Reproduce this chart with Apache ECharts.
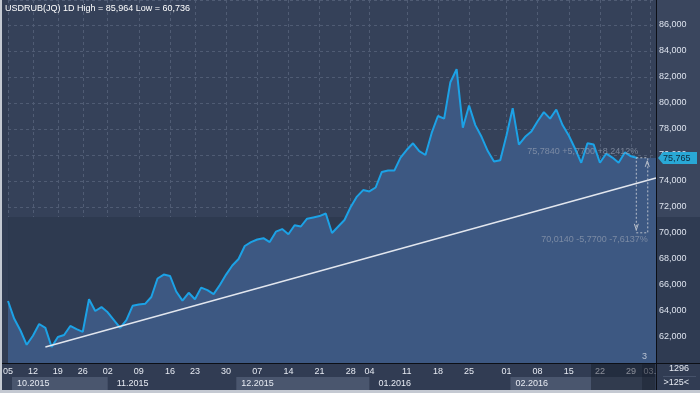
<!DOCTYPE html>
<html><head><meta charset="utf-8">
<script src="https://cdn.jsdelivr.net/npm/echarts@6/dist/echarts.min.js"></script>
<style>html,body{margin:0;padding:0;background:#c4c9d2;overflow:hidden}#c{width:700px;height:393px}</style>
</head><body><div id="c"></div>
<script>
// ---- data ----
const titleText = 'USDRUB(JQ) 1D High = 85,964 Low = 60,736';
const categories = [
 '10-05','10-06','10-07','10-08','10-12','10-13','10-14','10-15','10-19','10-20','10-21','10-22','10-26','10-27','10-28','10-29',
 '11-02','11-03','11-04','11-05','11-06','11-09','11-10','11-11','11-12','11-13','11-16','11-17','11-18','11-19',
 '11-23','11-24','11-25','11-26','11-27','11-30','12-01','12-02','12-03','12-04','12-07','12-08','12-09','12-10','12-11',
 '12-14','12-15','12-16','12-17','12-18','12-21','12-22','12-23','12-24','12-25','12-28','12-29','12-30',
 '01-04','01-05','01-06','01-07','01-08','01-09','01-11','01-12','01-13','01-14','01-15','01-18','01-19','01-20','01-21','01-22',
 '01-25','01-26','01-27','01-28','01-29','01-30','02-01','02-02','02-03','02-04','02-05','02-08','02-09','02-10','02-11','02-12',
 '02-15','02-16','02-17','02-18','02-19','02-22','02-24','02-25','02-26','02-27','02-29','03-01','03-02','03-03','03-04'
];
const prices = [
 64770,63400,62500,61400,62100,63000,62700,61230,62000,62150,62850,62600,62400,64900,64000,64300,
 63900,63300,62700,63300,64400,64500,64550,65080,66500,66800,66700,65500,64800,65400,
 64900,65800,65600,65300,66000,66800,67500,68000,69000,69300,69500,69600,69300,70100,70300,
 69900,70600,70500,71100,71200,71300,71500,70000,70500,71000,72000,72800,73300,
 73200,73500,74700,74800,74800,75800,76400,76900,76300,76000,77700,79000,78800,81600,82600,78100,
 79800,78300,77400,76300,75500,75600,77500,79600,76800,77400,77800,78600,79300,78800,79500,78300,
 77500,76500,75400,76900,76800,75400,76100,75800,75400,76200,75900,75765
];
const tickDates = ['10-05','10-12','10-19','10-26','11-02','11-09','11-16','11-23','11-30','12-07','12-14','12-21','12-28',
 '01-04','01-11','01-18','01-25','02-01','02-08','02-15','02-22','02-29','03-03'];
const tickLabels = ['05','12','19','26','02','09','16','23','30','07','14','21','28',
 '04','11','18','25','01','08','15','22','29','03.'];
const monthStarts = ['10-05','11-02','12-01','01-04','02-01'];
const monthEnds   = ['11-02','12-01','01-04','02-01','03-04'];
const monthLabels = ['10.2015','11.2015','12.2015','01.2016','02.2016'];
const lastPrice = 75765;
const lastPriceText = '75,765';
const bandValue = 71230;
const trendFrom = ['10-14', 61230];
const trendTo = ['03-04', 74230];
const rangeTop = 75784, rangeBottom = 70014;
const rangeFrom = '03-01', rangeTo = '03-03';
const rangeTopText = '75,7840 +5,7700 +8,2412%';
const rangeBottomText = '70,0140 -5,7700 -7,6137%';
const cornerTop = '1296', cornerBottom = '>125<';

// ---- chart ----
(function(){
const tickSet = new Set(tickDates);
const tickMap = {}; tickDates.forEach((d,i)=>tickMap[d]=tickLabels[i]);
const FONT = '"Liberation Sans", Arial, sans-serif';
const FS = 9;
const F = FS + 'px ' + FONT;
const areaData = prices.concat(categories.slice(prices.length).map(()=>prices[prices.length-1]));

const chart = echarts.init(document.getElementById('c'), null, {renderer:'canvas'});
chart.setOption({
  animation:false,
  backgroundColor:'#313c53',
  grid:{left:3, right:44, top:0, bottom:30, show:true, backgroundColor:'#354159', borderWidth:0},
  xAxis:{type:'category', data:categories, boundaryGap:false,
    axisLine:{show:true, lineStyle:{color:'#0c0f16', width:1}},
    axisTick:{show:false},
    axisLabel:{interval:(i,v)=>tickSet.has(v), formatter:v=>tickMap[v]||'', color:'#e6eaf2', fontSize:FS, fontFamily:FONT, margin:4},
    splitLine:{show:true, interval:(i,v)=>tickSet.has(v), lineStyle:{color:'#505c74', type:[3,3], width:1}}
  },
  yAxis:{type:'value', position:'right', min:60000, max:87923, interval:2000,
    axisLine:{show:true, lineStyle:{color:'#0c0f16'}},
    axisTick:{show:false},
    axisLabel:{color:'#dde3ee', fontSize:FS, fontFamily:FONT, margin:3,
      formatter:v=>(v%2000===0 && v>60000 && v<87000)? v.toLocaleString('en-US') : ''},
    splitLine:{show:true, lineStyle:{color:'#505c74', type:[3,3], width:1}}
  },
  series:[
    {type:'line', data:prices, symbol:'none', lineStyle:{opacity:0}, z:0, silent:true,
      markArea:{silent:true, itemStyle:{color:'#2e3a50'}, data:[[{yAxis:60000},{yAxis:bandValue}]]}},
    {type:'line', data:areaData, symbol:'none', lineStyle:{width:0}, areaStyle:{color:'#3d5882', opacity:1}, z:1, silent:true},
    {type:'line', data:prices, symbol:'none', lineStyle:{color:'#1ca2e6', width:2}, z:3,
      markLine:{silent:true, symbol:'none', label:{show:false},
        lineStyle:{color:'#e2e6ee', width:1.5, type:'solid'},
        data:[[{coord:trendFrom},{coord:trendTo}]]}
    }
  ]
});

function px(cat, val){ return chart.convertToPixel({xAxisIndex:0, yAxisIndex:0}, [cat, val]); }
const g = [];
const bandY = px(rangeFrom, bandValue)[1];
g.push({type:'rect', shape:{x:657, y:0, width:43, height:bandY}, style:{fill:'#3a465e'}, z:0});
g.push({type:'rect', shape:{x:657, y:bandY, width:43, height:363-bandY}, style:{fill:'#2f3b52'}, z:0});
const rowTop = 377, rowH = 13;
monthStarts.forEach((m,i)=>{
  const x1 = px(m, 60000)[0], x2 = Math.min(px(monthEnds[i],60000)[0], 655);
  if(i%2===0) g.push({type:'rect', shape:{x:x1+4, y:rowTop, width:x2-x1-4, height:rowH}, style:{fill:'#4a566e'}, z:5});
  g.push({type:'text', x:x1+9, y:rowTop+rowH/2+0.5, style:{text:monthLabels[i], fill:'#e6eaf2', font:F, verticalAlign:'middle'}, z:6});
});
g.push({type:'rect', shape:{x:591, y:364, width:64, height:26}, style:{fill:'rgba(20,26,40,0.45)'}, z:7});
g.push({type:'rect', shape:{x:642, y:364, width:13, height:26}, style:{fill:'rgba(20,26,40,0.35)'}, z:7});
g.push({type:'line', shape:{x1:656.5, y1:0, x2:656.5, y2:393}, style:{stroke:'#0c0f16', lineWidth:1}, z:8});
g.push({type:'line', shape:{x1:0, y1:363.5, x2:700, y2:363.5}, style:{stroke:'#0c0f16', lineWidth:1}, z:8});
g.push({type:'line', shape:{x1:663, y1:376.5, x2:696, y2:376.5}, style:{stroke:'#46526a', lineWidth:1}, z:8});
const pTop = px(rangeFrom, rangeTop), pBot = px(rangeTo, rangeBottom);
const bx1 = pTop[0]-1, bx2 = pBot[0] - 2;
g.push({type:'rect', shape:{x:bx1, y:pTop[1], width:bx2-bx1, height:pBot[1]-pTop[1]}, style:{fill:'none', stroke:'#b8bfca', lineWidth:1, lineDash:[2,2]}, z:9});
g.push({type:'polyline', shape:{points:[[bx2-2.5,pTop[1]+9],[bx2-0.5,pTop[1]+3],[bx2+1.5,pTop[1]+9]]}, style:{stroke:'#b8bfca', fill:'none', lineWidth:1}, z:9});
g.push({type:'polyline', shape:{points:[[bx1-2,pBot[1]-9],[bx1,pBot[1]-3],[bx1+2,pBot[1]-9]]}, style:{stroke:'#b8bfca', fill:'none', lineWidth:1}, z:9});
g.push({type:'text', x:bx1+2, y:pTop[1]-6, style:{text:rangeTopText, fill:'rgba(150,160,178,0.7)', font:F, align:'right', verticalAlign:'middle'}, z:9});
g.push({type:'text', x:bx2, y:pBot[1]+7, style:{text:rangeBottomText, fill:'rgba(150,160,178,0.7)', font:F, align:'right', verticalAlign:'middle'}, z:9});
const ly = px(rangeFrom, lastPrice)[1];
g.push({type:'polygon', shape:{points:[[658,ly],[663,ly-6],[697,ly-6],[697,ly+6],[663,ly+6]]}, style:{fill:'#29a8d6'}, z:9});
g.push({type:'text', x:663, y:ly+0.5, style:{text:lastPriceText, fill:'#10283a', font:F, verticalAlign:'middle'}, z:10});
g.push({type:'text', x:5, y:9, style:{text:titleText, fill:'#ffffff', font:F, verticalAlign:'middle'}, z:10});
g.push({type:'text', x:642, y:357, style:{text:'3', fill:'#b9c2d2', font:F, verticalAlign:'middle'}, z:10});
g.push({type:'text', x:689, y:369, style:{text:cornerTop, fill:'#e6eaf2', font:F, align:'right', verticalAlign:'middle'}, z:10});
g.push({type:'text', x:689, y:383, style:{text:cornerBottom, fill:'#e6eaf2', font:F, align:'right', verticalAlign:'middle'}, z:10});
g.push({type:'rect', shape:{x:0, y:0, width:2, height:393}, style:{fill:'#c4c9d2'}, z:20});
g.push({type:'rect', shape:{x:0, y:390, width:700, height:3}, style:{fill:'#c4c9d2'}, z:20});
chart.setOption({graphic:g});
})();
</script></body></html>
